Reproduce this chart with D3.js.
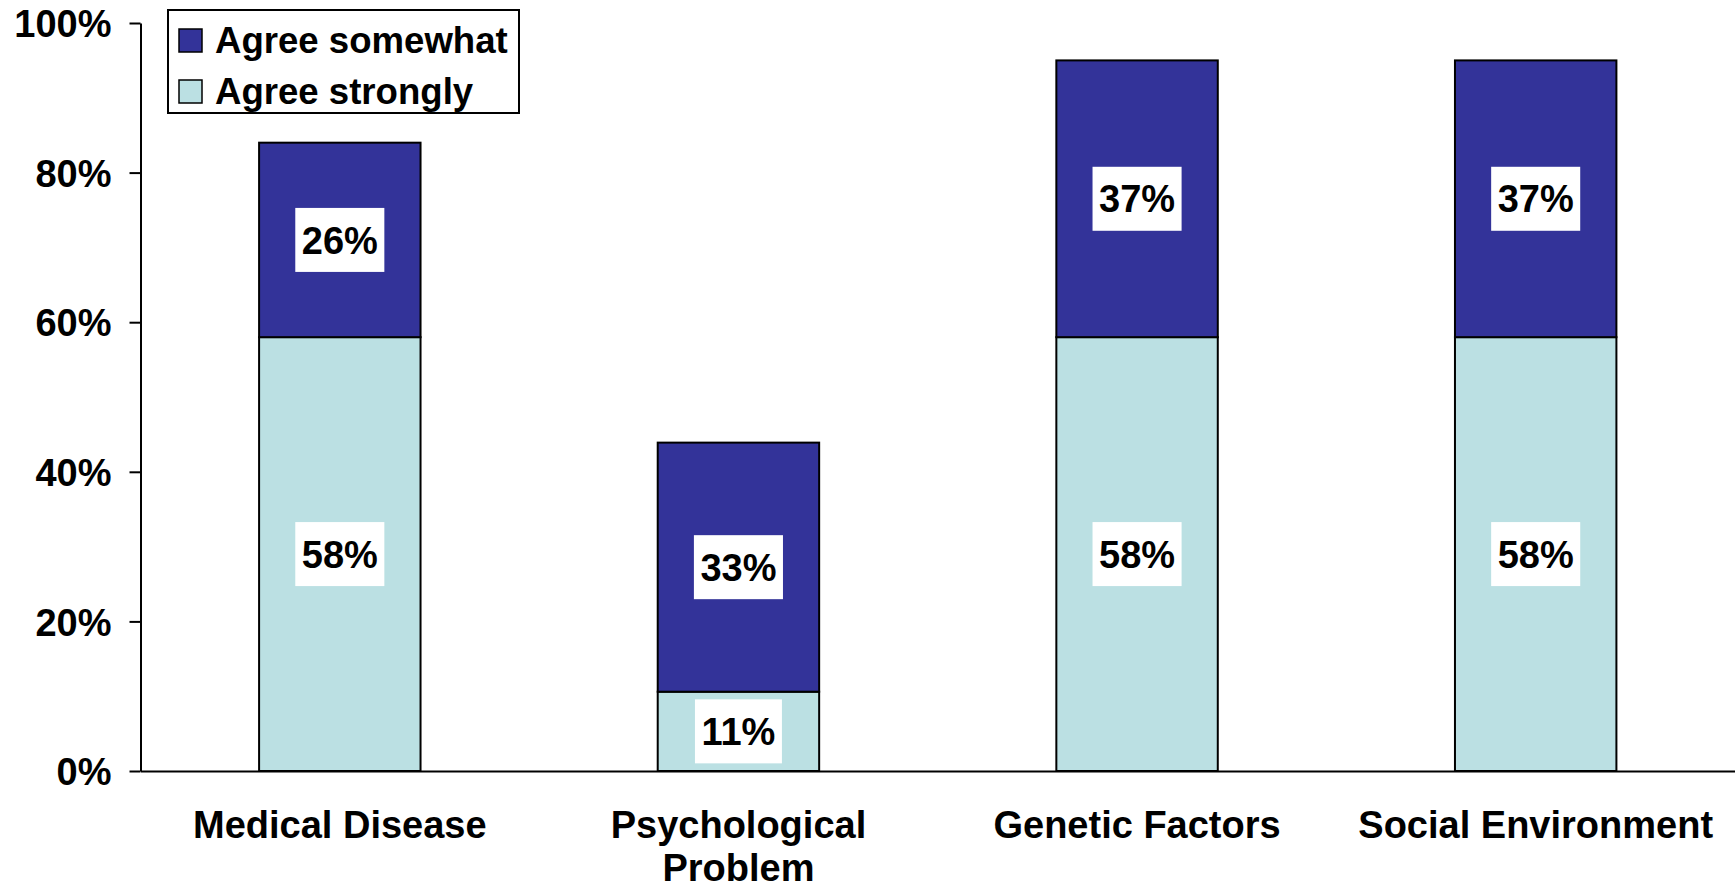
<!DOCTYPE html>
<html>
<head>
<meta charset="utf-8">
<script src="https://cdn.jsdelivr.net/npm/d3@7"></script>
<style>
  html, body { margin: 0; padding: 0; background: #fff; }
  svg { display: block; }
  text { font-family: "Liberation Sans", Arial, sans-serif; font-weight: bold; fill: #000; }
</style>
</head>
<body>
<svg id="chart" width="1735" height="890"></svg>
<script>
// ---- data ----
const categories = ["Medical Disease", "Psychological Problem", "Genetic Factors", "Social Environment"];
const categoryLines = [["Medical Disease"], ["Psychological", "Problem"], ["Genetic Factors"], ["Social Environment"]];
const seriesNames = ["Agree strongly", "Agree somewhat"];
const agreeStrongly = [58, 10.6, 58, 58];
const agreeSomewhat = [26, 33.3, 37, 37];
const yTicks = [0, 20, 40, 60, 80, 100];
const seriesColors = ["#BBE0E3", "#333399"];

// ---- layout ----
const svg = d3.select("#chart");
const plotLeft = 140.5, plotRight = 1735, plotTop = 23, plotBottom = 771;

const x = d3.scaleBand().domain(categories).range([plotLeft, plotRight])
  .paddingInner(0.595).paddingOuter(0.2975);
const y = d3.scaleLinear().domain([0, 100]).range([plotBottom, plotTop]);

const rows = categories.map((c, i) => ({ cat: c, vals: [agreeStrongly[i], agreeSomewhat[i]] }));

// ---- bars ----
const segs = [];
rows.forEach(r => {
  let base = 0;
  r.vals.forEach((v, s) => {
    segs.push({ cat: r.cat, s, y0: base, y1: base + v, v });
    base += v;
  });
});

svg.append("g").selectAll("rect").data(segs).join("rect")
  .attr("x", d => x(d.cat))
  .attr("width", x.bandwidth())
  .attr("y", d => y(d.y1))
  .attr("height", d => y(d.y0) - y(d.y1))
  .attr("fill", d => seriesColors[d.s])
  .attr("stroke", "#000")
  .attr("stroke-width", 2);

// ---- data labels ----
const fmt = d3.format(".0f");
const lab = svg.append("g").selectAll("g").data(segs).join("g")
  .attr("transform", d => `translate(${x(d.cat) + x.bandwidth() / 2},${(y(d.y0) + y(d.y1)) / 2})`);
lab.append("rect").attr("class", "bg").attr("fill", "#fff");
lab.append("text")
  .attr("text-anchor", "middle")
  .attr("dy", "0.36em")
  .style("font-size", "38px")
  .text(d => fmt(d.v) + "%");
lab.each(function () {
  const g = d3.select(this);
  const w = g.select("text").node().getComputedTextLength();
  const bw = w + 13, bh = 64;
  g.select("rect.bg").attr("x", -bw / 2).attr("y", -bh / 2).attr("width", bw).attr("height", bh);
});

// ---- y axis ----
const yAxis = svg.append("g").attr("transform", `translate(${plotLeft},0)`)
  .call(d3.axisLeft(y).tickValues(yTicks).tickFormat(d => d + "%").tickSize(11).tickSizeOuter(0).tickPadding(18));
yAxis.select(".domain").attr("stroke", "#000").attr("stroke-width", 2);
yAxis.selectAll(".tick line").attr("stroke", "#000").attr("stroke-width", 2);
yAxis.selectAll(".tick text").style("font-size", "38px").attr("font-family", null).attr("dy", "0.36em");

// ---- x axis ----
const xAxis = svg.append("g").attr("transform", `translate(0,${plotBottom})`)
  .call(d3.axisBottom(x).tickSize(0).tickSizeOuter(0).tickPadding(0));
xAxis.select(".domain").attr("stroke", "#000").attr("stroke-width", 2);
xAxis.selectAll(".tick text")
  .style("font-size", "38px").attr("font-family", null)
  .attr("y", 0).attr("dy", null)
  .text(null)
  .each(function (d) {
    const lines = categoryLines[categories.indexOf(d)];
    const t = d3.select(this);
    lines.forEach((ln, i) => {
      t.append("tspan").attr("x", 0).attr("y", 67 + i * 43).text(ln);
    });
  });

// ---- legend ----
const legend = svg.append("g");
legend.append("rect")
  .attr("x", 168).attr("y", 10).attr("width", 351).attr("height", 103)
  .attr("fill", "#fff").attr("stroke", "#000").attr("stroke-width", 2);
const legendOrder = [1, 0];
legendOrder.forEach((s, i) => {
  const rowY = 29 + i * 51;
  legend.append("rect")
    .attr("x", 179).attr("y", rowY).attr("width", 23).attr("height", 23)
    .attr("fill", seriesColors[s]).attr("stroke", "#000").attr("stroke-width", 1.5);
  legend.append("text")
    .attr("x", 215).attr("y", rowY + 24)
    .style("font-size", "36.6px")
    .text(seriesNames[s]);
});
</script>
</body>
</html>
